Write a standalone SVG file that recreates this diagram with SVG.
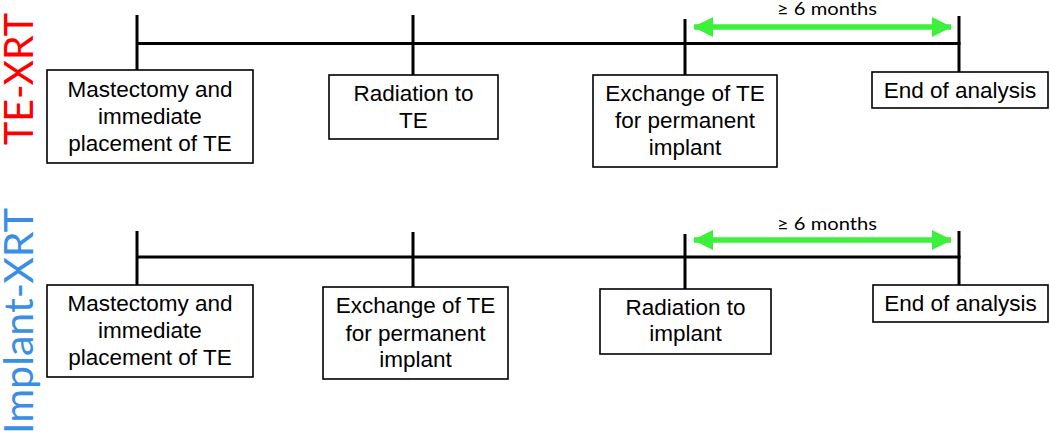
<svg xmlns="http://www.w3.org/2000/svg" width="1050" height="435" viewBox="0 0 1050 435">
<defs>
<style>
.tl{stroke:#000;stroke-width:3;fill:none;stroke-linecap:butt}
.box{fill:#fff;stroke:#000;stroke-width:1.6}
.bt{font-family:"Liberation Sans",Arial,sans-serif;font-size:22.5px;fill:#000;text-anchor:middle}
.side{font-family:Lato,"Open Sans",sans-serif;font-size:40px;text-anchor:middle}
.mo{font-family:Lato,"Open Sans",sans-serif;font-size:18px;fill:#000;text-anchor:middle}
.arr{stroke:#3cf03c;stroke-width:5.5;fill:none}
</style>
<marker id="ah" viewBox="0 0 20 20" refX="19" refY="10" markerWidth="20" markerHeight="20" markerUnits="userSpaceOnUse" orient="auto-start-reverse">
<path d="M0,0 L20,10 L0,20 z" fill="#3cf03c"/>
</marker>
</defs>
<rect width="1050" height="435" fill="#fff"/>
<text class="side" fill="#ff0000" transform="translate(33,79) rotate(-90)" textLength="132" lengthAdjust="spacingAndGlyphs">TE-XRT</text>
<text class="side" fill="#3a8ee6" transform="translate(33,321) rotate(-90)" textLength="226" lengthAdjust="spacingAndGlyphs">Implant-XRT</text>
<g id="connectors">
<line class="tl" x1="137" y1="43.5" x2="960.5" y2="43.5"/>
<line class="tl" x1="137" y1="15" x2="137" y2="70"/>
<line class="tl" x1="413" y1="15" x2="413" y2="75"/>
<line class="tl" x1="685" y1="19" x2="685" y2="75"/>
<line class="tl" x1="959" y1="16" x2="959" y2="72"/>
<line class="arr" x1="694" y1="27" x2="951" y2="27" marker-start="url(#ah)" marker-end="url(#ah)"/>
<line class="tl" x1="137" y1="257" x2="960.5" y2="257"/>
<line class="tl" x1="137" y1="231" x2="137" y2="285"/>
<line class="tl" x1="413" y1="232" x2="413" y2="287"/>
<line class="tl" x1="685" y1="234" x2="685" y2="289"/>
<line class="tl" x1="959" y1="231" x2="959" y2="285"/>
<line class="arr" x1="694" y1="240" x2="951" y2="240" marker-start="url(#ah)" marker-end="url(#ah)"/>
</g>
<text class="mo" x="827" y="15" textLength="100" lengthAdjust="spacingAndGlyphs">≥ 6 months</text>
<text class="mo" x="827" y="230" textLength="100" lengthAdjust="spacingAndGlyphs">≥ 6 months</text>
<g id="top-mastectomy">
<rect class="box" x="47" y="70" width="206" height="93"/>
<text class="bt" x="150" y="97">Mastectomy and</text>
<text class="bt" x="150" y="123.5">immediate</text>
<text class="bt" x="150" y="150.5">placement of TE</text>
</g>
<g id="top-radiation">
<rect class="box" x="329" y="75" width="169" height="64"/>
<text class="bt" x="413.5" y="100.5">Radiation to</text>
<text class="bt" x="413.5" y="127.5">TE</text>
</g>
<g id="top-exchange">
<rect class="box" x="593" y="75" width="184" height="92"/>
<text class="bt" x="685" y="100.5">Exchange of TE</text>
<text class="bt" x="685" y="128">for permanent</text>
<text class="bt" x="685" y="155">implant</text>
</g>
<g id="top-end">
<rect class="box" x="872" y="72" width="176" height="36"/>
<text class="bt" x="960" y="97.5">End of analysis</text>
</g>
<g id="bottom-mastectomy">
<rect class="box" x="47" y="285" width="206" height="92"/>
<text class="bt" x="150" y="311">Mastectomy and</text>
<text class="bt" x="150" y="337.5">immediate</text>
<text class="bt" x="150" y="364.5">placement of TE</text>
</g>
<g id="bottom-exchange">
<rect class="box" x="323" y="287" width="185" height="92"/>
<text class="bt" x="415.5" y="313">Exchange of TE</text>
<text class="bt" x="415.5" y="340.5">for permanent</text>
<text class="bt" x="415.5" y="367">implant</text>
</g>
<g id="bottom-radiation">
<rect class="box" x="600" y="289" width="171" height="65"/>
<text class="bt" x="685.5" y="315">Radiation to</text>
<text class="bt" x="685.5" y="341">implant</text>
</g>
<g id="bottom-end">
<rect class="box" x="873" y="285" width="175" height="37"/>
<text class="bt" x="960.5" y="311">End of analysis</text>
</g>
</svg>
